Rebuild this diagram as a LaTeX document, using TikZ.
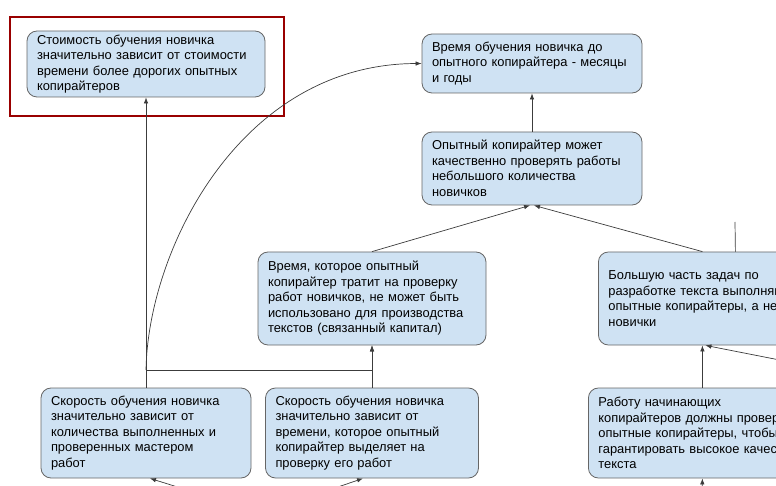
\documentclass[tikz,border=0pt]{standalone}
\usepackage{fontspec}
\setmainfont{Liberation Sans}
\usepackage{xcolor}
\definecolor{boxBlue}{HTML}{CFE2F3}
\definecolor{boxEdge}{HTML}{666666}
\definecolor{lineGray}{HTML}{3C3C3C}
\definecolor{frameRed}{HTML}{990000}
\usetikzlibrary{positioning,arrows.meta,calc}
\tikzset{
  ibox/.style={rectangle,draw=boxEdge,fill=boxBlue,line width=0.8pt,
    rounded corners=10pt,align=left,inner xsep=10pt,inner ysep=3pt,
    text width=#1,font=\fontsize{12.9}{15.5}\selectfont},
  ibox/.default=200pt,
  arrow/.style={-{Latex[length=6pt,width=4.5pt]},draw=lineGray,line width=0.7pt},
  link/.style={draw=lineGray,line width=0.7pt}
}

\begin{document}
\begin{tikzpicture}[x=1pt,y=-1pt]
  \useasboundingbox (0,0) rectangle (776,486);
  \clip (0,0) rectangle (776,486);

  % top row
  \node[ibox=218pt, minimum width=238pt, minimum height=66pt] (cost) at (146,64)
    {Стоимость обучения новичка\\значительно зависит от стоимости\\времени более дорогих опытных\\копирайтеров};
  \node[ibox=200pt, minimum width=220pt, minimum height=59pt] (time) at (532,63.5)
    {Время обучения новичка до\\опытного копирайтера - месяцы\\и годы};
  \node[ibox=200pt, minimum width=220pt, minimum height=73pt] (check) at (532,168.5)
    {Опытный копирайтер может\\качественно проверять работы\\небольшого количества\\новичков};

  % middle row
  \node[ibox=208pt, minimum width=228pt, minimum height=93pt] (capital) at (372,298.5)
    {Время, которое опытный\\копирайтер тратит на проверку\\работ новичков, не может быть\\использовано для производства\\текстов (связанный капитал)};
  \node[ibox=196pt, minimum width=216pt, minimum height=93pt, anchor=west] (tasks) at (598,298.5)
    {Большую часть задач по\\разработке текста выполняют\\опытные копирайтеры, а не\\новички};

  % bottom row
  \node[ibox=190pt, minimum width=210pt, minimum height=90pt] (speedA) at (146,433)
    {Скорость обучения новичка\\значительно зависит от\\количества выполненных и\\проверенных мастером\\работ};
  \node[ibox=193pt, minimum width=213pt, minimum height=90pt] (speedB) at (372,433)
    {Скорость обучения новичка\\значительно зависит от\\времени, которое опытный\\копирайтер выделяет на\\проверку его работ};
  \node[ibox=216pt, minimum width=236pt, minimum height=90pt, anchor=west] (review) at (588,433)
    {Работу начинающих\\копирайтеров должны проверять\\опытные копирайтеры, чтобы\\гарантировать высокое качество\\текста};

  % highlight frame
  \draw[frameRed, line width=1.8pt] (10,17) rectangle (284,116);

  % free ends
  \coordinate (fork) at (146,370);
  \coordinate (offR) at (800,364);
  \coordinate (upR) at (735,222);
  \coordinate (inA) at (219,500);
  \coordinate (inB) at (300,500);
  \coordinate (inC) at (702,500);

  \draw[arrow] (speedA.north) -- (cost.south);
  \draw[arrow] (fork) -| (capital.south);
  \draw[arrow] (speedB.north) -- (capital.south);
  \draw[arrow] (fork) .. controls (148,250) and (240,64) .. (time.west);
  \draw[arrow] (check.north) -- (time.south);
  \draw[arrow] (capital.north) -- ([xshift=-2pt]check.south);
  \draw[arrow] ([xshift=-4pt]tasks.north) -- ([xshift=2pt]check.south);
  \draw[arrow] ([xshift=-4pt]review.north) -- ([xshift=-4pt]tasks.south);
  \draw[arrow] (offR) -- ([xshift=-1pt]tasks.south);
  \draw[link] ([xshift=29pt]tasks.north) -- (upR);
  \draw[arrow] (inA) -- ([xshift=4pt]speedA.south);
  \draw[arrow] (inB) -- ([xshift=-9pt]speedB.south);
  \draw[arrow] (inC) -- ([xshift=-4pt]review.south);
\end{tikzpicture}
\end{document}
